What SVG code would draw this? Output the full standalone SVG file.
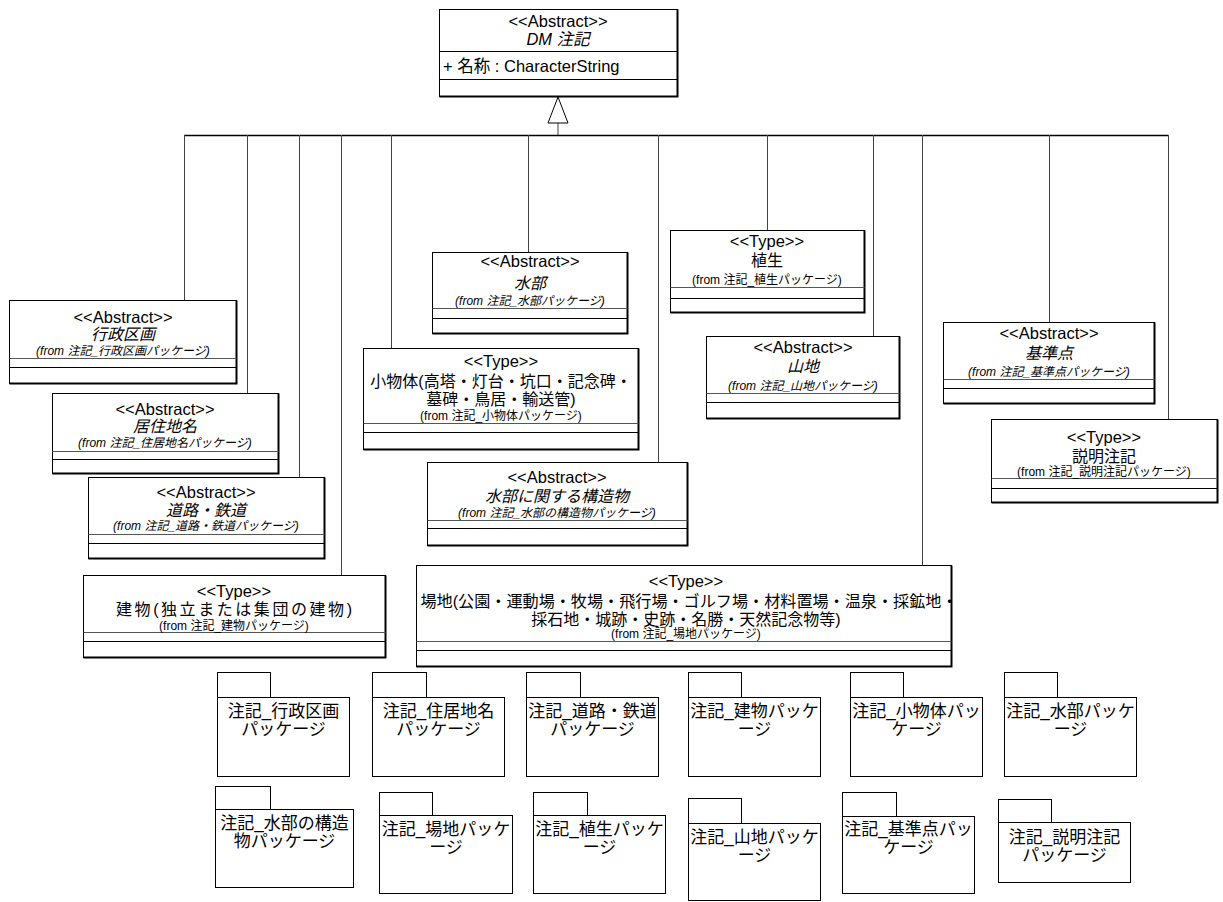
<svg xmlns="http://www.w3.org/2000/svg" width="1223" height="902" viewBox="0 0 1223 902">
<style>
text{font-family:'Liberation Sans','Noto Sans CJK JP',sans-serif;fill:#000;text-anchor:middle}
.box{fill:#fff;stroke:#000;stroke-width:1}
.edge{fill:none;stroke:#000;stroke-width:2}
.sep{stroke:#555;stroke-width:1}
.sep2{stroke:#000;stroke-width:1}
.st{font-size:16.5px}
.nm{font-size:16px}
.it{font-style:italic}
.fr{font-size:12px}
.pk{font-size:17px}
.pkb{fill:#fff;stroke:#000;stroke-width:1}
.conn{stroke:#444;stroke-width:1;fill:none}
.bus{stroke:#000;stroke-width:1.5;fill:none}
.tri{fill:#fff;stroke:#000;stroke-width:1}
</style>
<g id="connectors">
<path class="bus" d="M184 135.5H1168.5"/>
<path class="conn" d="M558 123V135"/>
<path class="conn" d="M184.5 135V300M247.5 135V393M299.5 135V477M341.5 135V575M391.5 135V348M528.5 135V252M658.5 135V462M767.5 135V230M873.5 135V336M922.5 135V565M1049.5 135V322M1168.5 135V419"/>
<polygon class="tri" points="558,97 548,123 568,123"/>
</g>
<g id="dm-chuki">
<rect class="box" x="439.5" y="9.5" width="238" height="87"/>
<path class="edge" d="M439.5 96.5H677.5V9.5"/>
<line class="sep2" x1="439.5" y1="51.5" x2="677.5" y2="51.5"/>
<line class="sep2" x1="439.5" y1="79.5" x2="677.5" y2="79.5"/>
<text class="st" x="558" y="27">&lt;&lt;Abstract&gt;&gt;</text>
<text class="st it" x="558" y="45">DM 注記</text>
<text class="st" x="443" y="72" style="text-anchor:start">+ 名称 : CharacterString</text>
</g>
<g id="gyosei">
<rect class="box" x="9.5" y="300.5" width="227" height="83"/>
<path class="edge" d="M9.5 383.5H236.5V300.5"/>
<line class="sep" x1="9.5" y1="358.5" x2="236.5" y2="358.5"/>
<line class="sep2" x1="9.5" y1="367.5" x2="236.5" y2="367.5"/>
<text class="st" x="123" y="323">&lt;&lt;Abstract&gt;&gt;</text>
<text class="nm it" x="123" y="340">行政区画</text>
<text class="fr it" x="123" y="355">(from 注記_行政区画パッケージ)</text>
</g>
<g id="kyoju">
<rect class="box" x="52.5" y="393.5" width="226" height="80"/>
<path class="edge" d="M52.5 473.5H278.5V393.5"/>
<line class="sep" x1="52.5" y1="451.5" x2="278.5" y2="451.5"/>
<line class="sep2" x1="52.5" y1="459.5" x2="278.5" y2="459.5"/>
<text class="st" x="165" y="415">&lt;&lt;Abstract&gt;&gt;</text>
<text class="nm it" x="165" y="432">居住地名</text>
<text class="fr it" x="165" y="447">(from 注記_住居地名パッケージ)</text>
</g>
<g id="doro">
<rect class="box" x="88.5" y="477.5" width="236" height="81"/>
<path class="edge" d="M88.5 558.5H324.5V477.5"/>
<line class="sep" x1="88.5" y1="534.5" x2="324.5" y2="534.5"/>
<line class="sep2" x1="88.5" y1="543.5" x2="324.5" y2="543.5"/>
<text class="st" x="206" y="498">&lt;&lt;Abstract&gt;&gt;</text>
<text class="nm it" x="206" y="516">道路・鉄道</text>
<text class="fr it" x="206" y="530">(from 注記_道路・鉄道パッケージ)</text>
</g>
<g id="tatemono">
<rect class="box" x="83.5" y="575.5" width="302" height="82"/>
<path class="edge" d="M83.5 657.5H385.5V575.5"/>
<line class="sep" x1="83.5" y1="632.5" x2="385.5" y2="632.5"/>
<line class="sep2" x1="83.5" y1="641.5" x2="385.5" y2="641.5"/>
<text class="st" x="234" y="597">&lt;&lt;Type&gt;&gt;</text>
<text class="nm" x="234" y="615" textLength="236" lengthAdjust="spacing">建物(独立または集団の建物)</text>
<text class="fr" x="234" y="630">(from 注記_建物パッケージ)</text>
</g>
<g id="suibu">
<rect class="box" x="432.5" y="252.5" width="195" height="81"/>
<path class="edge" d="M432.5 333.5H627.5V252.5"/>
<line class="sep" x1="432.5" y1="308.5" x2="627.5" y2="308.5"/>
<line class="sep2" x1="432.5" y1="318.5" x2="627.5" y2="318.5"/>
<text class="st" x="530" y="267">&lt;&lt;Abstract&gt;&gt;</text>
<text class="nm it" x="530" y="289">水部</text>
<text class="fr it" x="530" y="305">(from 注記_水部パッケージ)</text>
</g>
<g id="shobuttai">
<rect class="box" x="363.5" y="348.5" width="275" height="101"/>
<path class="edge" d="M363.5 449.5H638.5V348.5"/>
<line class="sep" x1="363.5" y1="423.5" x2="638.5" y2="423.5"/>
<line class="sep2" x1="363.5" y1="432.5" x2="638.5" y2="432.5"/>
<text class="st" x="501" y="367">&lt;&lt;Type&gt;&gt;</text>
<text class="nm" x="501" y="387">小物体(高塔・灯台・坑口・記念碑・</text>
<text class="nm" x="501" y="405">墓碑・鳥居・輸送管)</text>
<text class="fr" x="501" y="420">(from 注記_小物体パッケージ)</text>
</g>
<g id="suibu-kozo">
<rect class="box" x="427.5" y="462.5" width="260" height="83"/>
<path class="edge" d="M427.5 545.5H687.5V462.5"/>
<line class="sep" x1="427.5" y1="520.5" x2="687.5" y2="520.5"/>
<line class="sep2" x1="427.5" y1="528.5" x2="687.5" y2="528.5"/>
<text class="st" x="557" y="483">&lt;&lt;Abstract&gt;&gt;</text>
<text class="nm it" x="557" y="502">水部に関する構造物</text>
<text class="fr it" x="557" y="517">(from 注記_水部の構造物パッケージ)</text>
</g>
<g id="shokusei">
<rect class="box" x="670.5" y="230.5" width="194" height="82"/>
<path class="edge" d="M670.5 312.5H864.5V230.5"/>
<line class="sep" x1="670.5" y1="287.5" x2="864.5" y2="287.5"/>
<line class="sep2" x1="670.5" y1="298.5" x2="864.5" y2="298.5"/>
<text class="st" x="767" y="247">&lt;&lt;Type&gt;&gt;</text>
<text class="nm" x="767" y="266">植生</text>
<text class="fr" x="767" y="284">(from 注記_植生パッケージ)</text>
</g>
<g id="sanchi">
<rect class="box" x="706.5" y="336.5" width="193" height="82"/>
<path class="edge" d="M706.5 418.5H899.5V336.5"/>
<line class="sep" x1="706.5" y1="393.5" x2="899.5" y2="393.5"/>
<line class="sep2" x1="706.5" y1="402.5" x2="899.5" y2="402.5"/>
<text class="st" x="803" y="353">&lt;&lt;Abstract&gt;&gt;</text>
<text class="nm it" x="803" y="372">山地</text>
<text class="fr it" x="803" y="390">(from 注記_山地パッケージ)</text>
</g>
<g id="kijunten">
<rect class="box" x="943.5" y="322.5" width="211" height="81"/>
<path class="edge" d="M943.5 403.5H1154.5V322.5"/>
<line class="sep" x1="943.5" y1="379.5" x2="1154.5" y2="379.5"/>
<line class="sep2" x1="943.5" y1="388.5" x2="1154.5" y2="388.5"/>
<text class="st" x="1049" y="339">&lt;&lt;Abstract&gt;&gt;</text>
<text class="nm it" x="1049" y="359">基準点</text>
<text class="fr it" x="1049" y="376">(from 注記_基準点パッケージ)</text>
</g>
<g id="setsumei">
<rect class="box" x="991.5" y="419.5" width="226" height="83"/>
<path class="edge" d="M991.5 502.5H1217.5V419.5"/>
<line class="sep" x1="991.5" y1="478.5" x2="1217.5" y2="478.5"/>
<line class="sep2" x1="991.5" y1="488.5" x2="1217.5" y2="488.5"/>
<text class="st" x="1104" y="443">&lt;&lt;Type&gt;&gt;</text>
<text class="nm" x="1104" y="462">説明注記</text>
<text class="fr" x="1104" y="476">(from 注記_説明注記パッケージ)</text>
</g>
<g id="bachi">
<rect class="box" x="416.5" y="565.5" width="535" height="101"/>
<path class="edge" d="M416.5 666.5H951.5V565.5"/>
<line class="sep" x1="416.5" y1="641.5" x2="951.5" y2="641.5"/>
<line class="sep2" x1="416.5" y1="650.5" x2="951.5" y2="650.5"/>
<text class="st" x="686" y="587">&lt;&lt;Type&gt;&gt;</text>
<text class="nm" x="689" y="607" textLength="537" lengthAdjust="spacingAndGlyphs">場地(公園・運動場・牧場・飛行場・ゴルフ場・材料置場・温泉・採鉱地・</text>
<text class="nm" x="686" y="625">採石地・城跡・史跡・名勝・天然記念物等)</text>
<text class="fr" x="686" y="638">(from 注記_場地パッケージ)</text>
</g>
<g id="pkg-gyosei">
<rect class="pkb" x="217.5" y="672.5" width="53" height="25"/>
<rect class="pkb" x="217.5" y="697.5" width="132" height="79"/>
<text class="pk" x="283.5" y="717">注記_行政区画</text>
<text class="pk" x="283.5" y="735">パッケージ</text>
</g>
<g id="pkg-kyoju">
<rect class="pkb" x="372.5" y="672.5" width="54" height="25"/>
<rect class="pkb" x="372.5" y="697.5" width="132" height="79"/>
<text class="pk" x="438.5" y="717">注記_住居地名</text>
<text class="pk" x="438.5" y="735">パッケージ</text>
</g>
<g id="pkg-doro">
<rect class="pkb" x="526.5" y="672.5" width="54" height="25"/>
<rect class="pkb" x="526.5" y="697.5" width="132" height="79"/>
<text class="pk" x="592.5" y="717">注記_道路・鉄道</text>
<text class="pk" x="592.5" y="735">パッケージ</text>
</g>
<g id="pkg-tatemono">
<rect class="pkb" x="688.5" y="672.5" width="53" height="25"/>
<rect class="pkb" x="688.5" y="697.5" width="132" height="79"/>
<text class="pk" x="754.5" y="717">注記_建物パッケ</text>
<text class="pk" x="754.5" y="735">ージ</text>
</g>
<g id="pkg-shobuttai">
<rect class="pkb" x="850.5" y="672.5" width="53" height="25"/>
<rect class="pkb" x="850.5" y="697.5" width="132" height="79"/>
<text class="pk" x="916.5" y="717">注記_小物体パッ</text>
<text class="pk" x="916.5" y="735">ケージ</text>
</g>
<g id="pkg-suibu">
<rect class="pkb" x="1004.5" y="672.5" width="53" height="25"/>
<rect class="pkb" x="1004.5" y="697.5" width="132" height="79"/>
<text class="pk" x="1070.5" y="717">注記_水部パッケ</text>
<text class="pk" x="1070.5" y="735">ージ</text>
</g>
<g id="pkg-suibu-kozo">
<rect class="pkb" x="215.5" y="786.5" width="55" height="23"/>
<rect class="pkb" x="215.5" y="809.5" width="138" height="78"/>
<text class="pk" x="284.5" y="829">注記_水部の構造</text>
<text class="pk" x="284.5" y="847">物パッケージ</text>
</g>
<g id="pkg-bachi">
<rect class="pkb" x="379.5" y="792.5" width="53" height="23"/>
<rect class="pkb" x="379.5" y="815.5" width="133" height="78"/>
<text class="pk" x="446" y="835">注記_場地パッケ</text>
<text class="pk" x="446" y="853">ージ</text>
</g>
<g id="pkg-shokusei">
<rect class="pkb" x="533.5" y="792.5" width="54" height="23"/>
<rect class="pkb" x="533.5" y="815.5" width="132" height="78"/>
<text class="pk" x="599.5" y="835">注記_植生パッケ</text>
<text class="pk" x="599.5" y="853">ージ</text>
</g>
<g id="pkg-sanchi">
<rect class="pkb" x="688.5" y="798.5" width="53" height="25"/>
<rect class="pkb" x="688.5" y="823.5" width="132" height="77"/>
<text class="pk" x="754.5" y="843">注記_山地パッケ</text>
<text class="pk" x="754.5" y="861">ージ</text>
</g>
<g id="pkg-kijunten">
<rect class="pkb" x="842.5" y="792.5" width="54" height="24"/>
<rect class="pkb" x="842.5" y="816.5" width="132" height="77"/>
<text class="pk" x="908.5" y="835">注記_基準点パッ</text>
<text class="pk" x="908.5" y="853">ケージ</text>
</g>
<g id="pkg-setsumei">
<rect class="pkb" x="998.5" y="799.5" width="53" height="23"/>
<rect class="pkb" x="998.5" y="822.5" width="132" height="60"/>
<text class="pk" x="1064.5" y="843">注記_説明注記</text>
<text class="pk" x="1064.5" y="861">パッケージ</text>
</g>
</svg>
